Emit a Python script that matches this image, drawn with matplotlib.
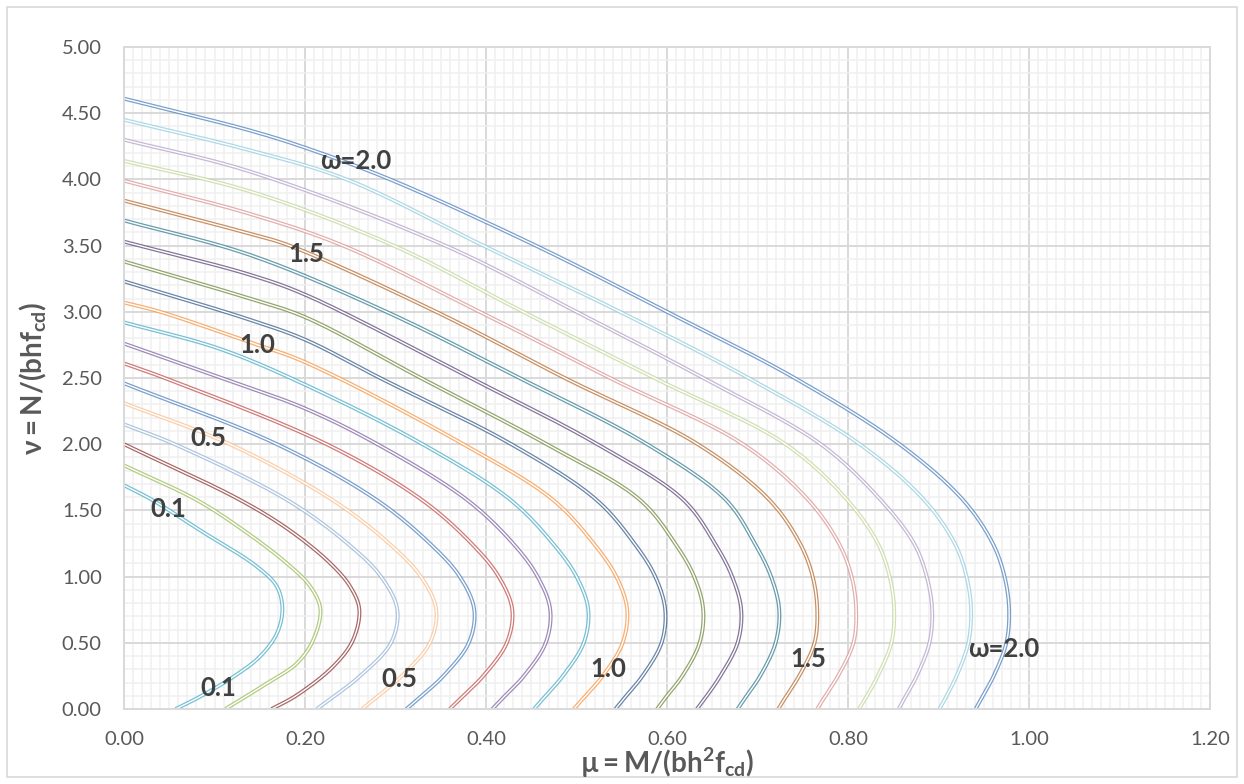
"""Interaction diagram: mu-nu curves for a symmetrically reinforced section.

One smoothed curve per mechanical reinforcement ratio (omega = 0.1 ... 2.0),
drawn as a double (hollow) line the way the spreadsheet original looks.
"""

import matplotlib

matplotlib.use("Agg")
import matplotlib.pyplot as plt
import numpy as np
from matplotlib.patches import Rectangle
from matplotlib.ticker import FormatStrFormatter, MultipleLocator

# --- curve data: reduced moment mu and reduced axial force nu -------------
MU_W01 = [0.000, 0.031, 0.084, 0.147, 0.169, 0.175, 0.169, 0.150, 0.121, 0.084, 0.057]
NU_W01 = [1.69, 1.58, 1.35, 1.075, 0.924, 0.753, 0.571, 0.395, 0.244, 0.093, 0.0]

MU_W02 = [0.000, 0.080, 0.132, 0.180, 0.206, 0.217, 0.209, 0.191, 0.158, 0.112]
NU_W02 = [1.84, 1.58, 1.35, 1.10, 0.924, 0.753, 0.52, 0.345, 0.194, 0.0]

MU_W03 = [0.000, 0.128, 0.183, 0.228, 0.250, 0.260, 0.253, 0.231, 0.190, 0.163]
NU_W03 = [2.00, 1.58, 1.35, 1.10, 0.924, 0.753, 0.52, 0.32, 0.10, 0.0]

MU_W04 = [0.000, 0.056, 0.180, 0.247, 0.284, 0.302, 0.295, 0.261, 0.233, 0.213]
NU_W04 = [2.15, 2.00, 1.58, 1.25, 1.00, 0.75, 0.50, 0.25, 0.10, 0.0]

MU_W05 = [0.000, 0.117, 0.230, 0.293, 0.328, 0.345, 0.338, 0.307, 0.281, 0.263]
NU_W05 = [2.31, 2.00, 1.58, 1.25, 1.00, 0.75, 0.50, 0.25, 0.10, 0.0]

MU_W06 = [0.000, 0.169, 0.279, 0.338, 0.371, 0.387, 0.381, 0.353, 0.329, 0.312]
NU_W06 = [2.46, 2.00, 1.58, 1.25, 1.00, 0.75, 0.50, 0.25, 0.10, 0.0]

MU_W07 = [0.000, 0.045, 0.224, 0.329, 0.384, 0.414, 0.429, 0.423, 0.397, 0.375, 0.360]
NU_W07 = [2.61, 2.50, 2.00, 1.58, 1.25, 1.00, 0.75, 0.50, 0.25, 0.10, 0.0]

MU_W08 = [0.000, 0.108, 0.200, 0.280, 0.379, 0.430, 0.457, 0.471, 0.466, 0.442, 0.421, 0.407]
NU_W08 = [2.76, 2.50, 2.27, 2.00, 1.58, 1.25, 1.00, 0.75, 0.50, 0.25, 0.10, 0.0]

MU_W09 = [0.000, 0.106, 0.200, 0.330, 0.427, 0.474, 0.500, 0.513, 0.508, 0.485, 0.466, 0.453]
NU_W09 = [2.92, 2.72, 2.45, 2.00, 1.58, 1.25, 1.00, 0.75, 0.50, 0.25, 0.10, 0.0]

MU_W10 = [0.000, 0.040, 0.139, 0.200, 0.375, 0.474, 0.519, 0.544, 0.556, 0.551, 0.529, 0.510, 0.497]
NU_W10 = [3.07, 3.00, 2.77, 2.62, 2.00, 1.58, 1.25, 1.00, 0.75, 0.50, 0.25, 0.10, 0.0]

MU_W11 = [0.000, 0.139, 0.200, 0.283, 0.428, 0.522, 0.564, 0.587, 0.598, 0.594, 0.573, 0.555, 0.543]
NU_W11 = [3.23, 2.94, 2.79, 2.50, 2.00, 1.58, 1.25, 1.00, 0.75, 0.50, 0.25, 0.10, 0.0]

MU_W12 = [0.000, 0.139, 0.200, 0.328, 0.467, 0.570, 0.609, 0.630, 0.640, 0.636, 0.617, 0.600, 0.589]
NU_W12 = [3.38, 3.10, 2.96, 2.50, 2.00, 1.58, 1.25, 1.00, 0.75, 0.50, 0.25, 0.10, 0.0]

MU_W13 = [0.000, 0.139, 0.200, 0.383, 0.523, 0.618, 0.653, 0.672, 0.682, 0.678, 0.659, 0.644, 0.633]
NU_W13 = [3.53, 3.28, 3.13, 2.50, 2.00, 1.58, 1.25, 1.00, 0.75, 0.50, 0.25, 0.10, 0.0]

MU_W14 = [0.000, 0.139, 0.290, 0.437, 0.578, 0.665, 0.697, 0.715, 0.724, 0.720, 0.703, 0.688, 0.678]
NU_W14 = [3.69, 3.43, 3.00, 2.50, 2.00, 1.58, 1.25, 1.00, 0.75, 0.50, 0.25, 0.10, 0.0]

MU_W15 = [0.000, 0.139, 0.183, 0.345, 0.487, 0.634, 0.713, 0.747, 0.761, 0.766, 0.763, 0.746, 0.732, 0.723]
NU_W15 = [3.84, 3.59, 3.50, 3.00, 2.50, 2.00, 1.58, 1.25, 1.00, 0.75, 0.50, 0.25, 0.10, 0.0]

MU_W16 = [0.000, 0.139, 0.242, 0.393, 0.537, 0.684, 0.756, 0.790, 0.804, 0.809, 0.806, 0.789, 0.775, 0.766]
NU_W16 = [3.99, 3.74, 3.50, 3.00, 2.50, 2.00, 1.58, 1.25, 1.00, 0.75, 0.50, 0.25, 0.10, 0.0]

MU_W17 = [0.000, 0.139, 0.298, 0.441, 0.586, 0.731, 0.799, 0.833, 0.846, 0.851, 0.848, 0.833, 0.821, 0.812]
NU_W17 = [4.14, 3.91, 3.50, 3.00, 2.50, 2.00, 1.58, 1.25, 1.00, 0.75, 0.50, 0.25, 0.10, 0.0]

MU_W18 = [0.000, 0.139, 0.355, 0.500, 0.640, 0.770, 0.836, 0.873, 0.887, 0.893, 0.890, 0.876, 0.864, 0.856]
NU_W18 = [4.30, 4.06, 3.50, 3.00, 2.50, 2.00, 1.58, 1.25, 1.00, 0.75, 0.50, 0.25, 0.10, 0.0]

MU_W19 = [0.000, 0.139, 0.246, 0.397, 0.548, 0.690, 0.813, 0.884, 0.918, 0.931, 0.936, 0.933, 0.920, 0.909, 0.901]
NU_W19 = [4.45, 4.22, 4.00, 3.50, 3.00, 2.50, 2.00, 1.58, 1.25, 1.00, 0.75, 0.50, 0.25, 0.10, 0.0]

MU_W20 = [0.000, 0.139, 0.200, 0.294, 0.455, 0.600, 0.741, 0.857, 0.927, 0.960, 0.973, 0.978, 0.975, 0.961, 0.949, 0.941]
NU_W20 = [4.61, 4.37, 4.24, 4.00, 3.50, 3.00, 2.50, 2.00, 1.58, 1.25, 1.00, 0.75, 0.50, 0.25, 0.10, 0.0]

OMEGA = [0.1, 0.2, 0.3, 0.4, 0.5, 0.6, 0.7, 0.8, 0.9, 1.0,
         1.1, 1.2, 1.3, 1.4, 1.5, 1.6, 1.7, 1.8, 1.9, 2.0]
CURVES = [
    (MU_W01, NU_W01), (MU_W02, NU_W02), (MU_W03, NU_W03), (MU_W04, NU_W04),
    (MU_W05, NU_W05), (MU_W06, NU_W06), (MU_W07, NU_W07), (MU_W08, NU_W08),
    (MU_W09, NU_W09), (MU_W10, NU_W10), (MU_W11, NU_W11), (MU_W12, NU_W12),
    (MU_W13, NU_W13), (MU_W14, NU_W14), (MU_W15, NU_W15), (MU_W16, NU_W16),
    (MU_W17, NU_W17), (MU_W18, NU_W18), (MU_W19, NU_W19), (MU_W20, NU_W20),
]

# Office-style series colours, one per omega
COLORS = [
    "#4BACC6", "#9BBB59", "#8C3836", "#95B3D7", "#FAC090",
    "#4F81BD", "#C0504D", "#8064A2", "#4BACC6", "#F79646",
    "#385D8A", "#71893F", "#5E4879", "#357D91", "#B66D31",
    "#D99694", "#C3D69B", "#B3A2C7", "#93CDDD", "#4F81BD",
]

# (text, mu, nu) for the in-plot omega labels
LABELS = [
    ("ω=2.0", 0.256, 4.14), ("1.5", 0.201, 3.44), ("1.0", 0.147, 2.75),
    ("0.5", 0.093, 2.05), ("0.1", 0.049, 1.51),
    ("0.1", 0.104, 0.16), ("0.5", 0.304, 0.23), ("1.0", 0.535, 0.30),
    ("1.5", 0.756, 0.38), ("ω=2.0", 0.972, 0.45),
]

W, H = 1244, 784
SX, SY = 905.0, 132.4  # px per unit of mu / nu, used to smooth isotropically


def smooth(mu, nu, n=30):
    """Centripetal Catmull-Rom through the points (spreadsheet 'smoothed line')."""
    p = np.column_stack([np.asarray(mu) * SX, np.asarray(nu) * SY])
    p = np.vstack([2 * p[0] - p[1], p, 2 * p[-1] - p[-2]])
    out = []
    for i in range(1, len(p) - 2):
        p0, p1, p2, p3 = p[i - 1:i + 3]
        t0 = 0.0
        t1 = t0 + np.linalg.norm(p1 - p0) ** 0.5
        t2 = t1 + np.linalg.norm(p2 - p1) ** 0.5
        t3 = t2 + np.linalg.norm(p3 - p2) ** 0.5
        t = np.linspace(t1, t2, n)[:, None]
        a1 = (t1 - t) / (t1 - t0) * p0 + (t - t0) / (t1 - t0) * p1
        a2 = (t2 - t) / (t2 - t1) * p1 + (t - t1) / (t2 - t1) * p2
        a3 = (t3 - t) / (t3 - t2) * p2 + (t - t2) / (t3 - t2) * p3
        b1 = (t2 - t) / (t2 - t0) * a1 + (t - t0) / (t2 - t0) * a2
        b2 = (t3 - t) / (t3 - t1) * a2 + (t - t1) / (t3 - t1) * a3
        c = (t2 - t) / (t2 - t1) * b1 + (t - t1) / (t2 - t1) * b2
        out.append(c if i == 1 else c[1:])
    xy = np.vstack(out)
    return xy[:, 0] / SX, xy[:, 1] / SY


def main():
    plt.rcParams["font.family"] = ["Lato", "Noto Sans", "DejaVu Sans"]
    plt.rcParams["mathtext.fontset"] = "custom"
    plt.rcParams["mathtext.rm"] = "Lato:bold"
    plt.rcParams["mathtext.it"] = "Lato:bold"
    plt.rcParams["mathtext.bf"] = "Lato:bold"
    plt.rcParams["mathtext.fallback"] = "stixsans"

    fig = plt.figure(figsize=(W / 100, H / 100), dpi=100)
    fig.patches.append(Rectangle((7 / W, 7 / H), 1 - 14 / W, 1 - 14 / H,
                                 transform=fig.transFigure, fill=False,
                                 edgecolor="#D9D9D9", lw=1.2))

    ax = fig.add_axes([124 / W, 1 - 709 / H, 1086 / W, 662 / H])
    ax.set_xlim(0, 1.2)
    ax.set_ylim(0, 5)
    ax.xaxis.set_major_locator(MultipleLocator(0.2))
    ax.xaxis.set_minor_locator(MultipleLocator(0.01))
    ax.yaxis.set_major_locator(MultipleLocator(0.5))
    ax.yaxis.set_minor_locator(MultipleLocator(0.1))
    ax.xaxis.set_major_formatter(FormatStrFormatter("%.2f"))
    ax.yaxis.set_major_formatter(FormatStrFormatter("%.2f"))
    ax.tick_params(which="both", length=0, labelsize=14.5,
                   labelcolor="#595959", pad=16)
    ax.set_axisbelow(True)
    ax.grid(which="minor", color="#F0F0F0", lw=1.1)
    ax.grid(which="major", color="#D9D9D9", lw=1.4)
    for s in ax.spines.values():
        s.set_color("#D9D9D9")
        s.set_linewidth(1.4)

    # hollow lines: coloured stroke with a thin white core
    for (mu, nu), col in zip(CURVES, COLORS):
        xs, ys = smooth(mu, nu)
        ax.plot(xs, ys, color=col, lw=2.8, alpha=0.75, solid_capstyle="butt")
        ax.plot(xs, ys, color="white", lw=1.0, solid_capstyle="butt")

    for txt, x, y in LABELS:
        ax.text(x, y, txt, ha="center", va="center", fontsize=18.5,
                fontweight="bold", color="#404040")

    fig.text(667 / W, 1 - 773 / H, r"$\mathrm{µ=M/(bh^{2}f_{cd})}$",
             ha="center", va="baseline", fontsize=20, color="#595959")
    fig.text(42 / W, 1 - 378 / H, r"$\mathrm{ν=N/(bhf_{cd})}$",
             ha="center", va="baseline", rotation=90, rotation_mode="anchor",
             fontsize=20, color="#595959")

    fig.savefig("out.png", dpi=100)
    plt.close(fig)


if __name__ == "__main__":
    main()
